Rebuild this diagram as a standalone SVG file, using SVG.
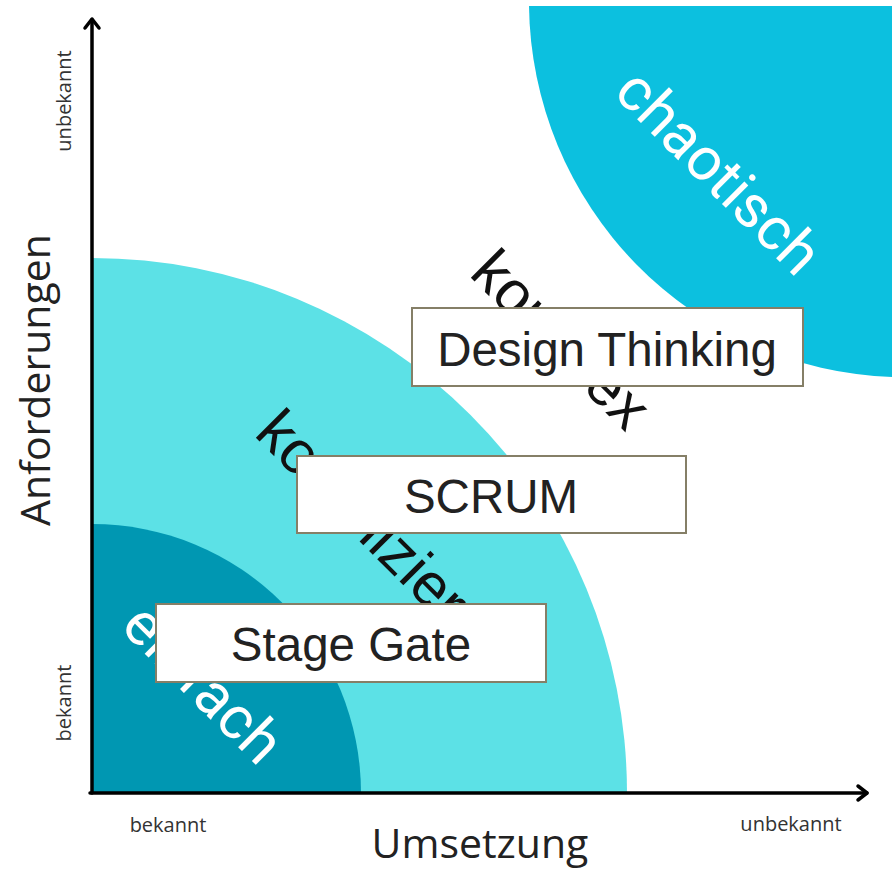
<svg xmlns="http://www.w3.org/2000/svg" width="892" height="872" viewBox="0 0 892 872">
<style>
.box{fill:#ffffff;stroke:#857f67;stroke-width:2}
.boxt{font-family:"Liberation Sans",Arial,sans-serif;font-size:47.5px;fill:#222222;text-anchor:middle}
.zw{font-family:Roboto,"Liberation Sans",sans-serif;font-size:60px;fill:#ffffff}
.zb{font-family:"Liberation Sans",Arial,sans-serif;font-size:60px;fill:#111111}
.ax{font-family:"Open Sans","Liberation Sans",sans-serif;font-size:41px;fill:#222222;text-anchor:middle}
.sm{font-family:"Open Sans","Liberation Sans",sans-serif;font-size:20px;fill:#333333;text-anchor:middle}
.axis{stroke:#000000;stroke-width:3.5;fill:none;stroke-linecap:round;stroke-linejoin:round}
</style>
<rect width="892" height="872" fill="#ffffff"/>
<g id="zones">
<path id="chaotisch-zone" d="M529,6 A376,376 0 0 0 892,377 L892,6 Z" fill="#0cc0df"/>
<path id="kompliziert-zone" d="M92,793 L92,258 A535,535 0 0 1 627,793 Z" fill="#5ce1e6"/>
<path id="einfach-zone" d="M92,793 L92,524 A269,269 0 0 1 361,793 Z" fill="#0097b2"/>
</g>
<g id="zone-labels">
<text class="zw" transform="translate(612,94) rotate(45)">chaotisch</text>
<text class="zb" transform="translate(468,275) rotate(45)">komplex</text>
<text class="zb" transform="translate(253,435) rotate(45)">kompliziert</text>
<text class="zw" transform="translate(119,628) rotate(45)">einfach</text>
</g>
<g id="connectors">
<path class="axis" d="M92,793 L92,20"/>
<path class="axis" d="M85,28 L92,19 L99,28"/>
<path class="axis" d="M90,793 L867,793"/>
<path class="axis" d="M858,786 L867,793 L858,800"/>
</g>
<g id="axis-labels">
<text class="ax" transform="translate(50,380) rotate(-90)">Anforderungen</text>
<text class="ax" x="480" y="858">Umsetzung</text>
<text class="sm" transform="translate(71,101) rotate(-90)">unbekannt</text>
<text class="sm" transform="translate(71,703) rotate(-90)">bekannt</text>
<text class="sm" x="168" y="832">bekannt</text>
<text class="sm" x="791" y="831">unbekannt</text>
</g>
<g id="design-thinking">
<rect class="box" x="412" y="308" width="391" height="78"/>
<text class="boxt" x="607" y="366">Design Thinking</text>
</g>
<g id="scrum">
<rect class="box" x="297" y="456" width="389" height="77"/>
<text class="boxt" x="491" y="513">SCRUM</text>
</g>
<g id="stage-gate">
<rect class="box" x="156" y="604" width="390" height="78"/>
<text class="boxt" x="351" y="661">Stage Gate</text>
</g>
</svg>
